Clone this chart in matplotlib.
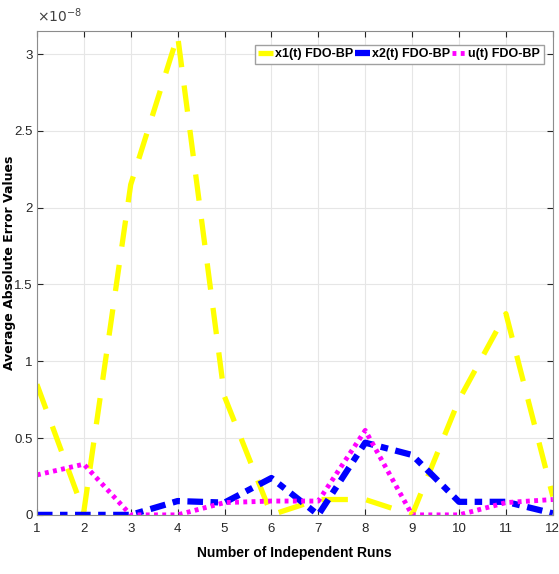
import numpy as np
import matplotlib.pyplot as plt
from matplotlib.ticker import FuncFormatter

plt.rcParams['font.family'] = ['Liberation Sans', 'DejaVu Sans']

# data (values in units of 1e-8)
runs = np.arange(1, 13)
x1_err = [0.85, 0.02, 2.15, 3.12, 0.77, 0.0, 0.1, 0.1, 0.0, 0.75, 1.31, 0.12]
x2_err = [0.0, 0.0, 0.0, 0.09, 0.08, 0.24, 0.0, 0.47, 0.39, 0.085, 0.085, 0.01]
u_err = [0.26, 0.33, 0.0, 0.0, 0.08, 0.09, 0.09, 0.55, 0.0, 0.0, 0.08, 0.1]
yticks = [0, 0.5, 1, 1.5, 2, 2.5, 3]

fig = plt.figure(figsize=(5.59, 5.74), dpi=100)
ax = fig.add_axes([0.066, 0.103, 0.923, 0.843])

ax.plot(runs, x1_err, color='yellow', lw=3.8, ls=(0, (5, 3.5)), label='x1(t) FDO-BP')
ax.plot(runs, x2_err, color='blue', lw=4.5, ls=(0, (2.5, 1.2, 1.2, 1.2)), label='x2(t) FDO-BP')
ax.plot(runs, u_err, color='magenta', lw=3.5, ls=(0, (0.8, 0.9)), label='u(t) FDO-BP')

ax.set_xlim(1, 12)
ax.set_ylim(0, 3.15)
ax.set_xticks(runs)
ax.set_yticks(yticks)
ax.yaxis.set_major_formatter(FuncFormatter(lambda v, p: '%g' % v))
ax.text(0.0, 1.012, r'$\times10^{-8}$', transform=ax.transAxes, fontsize=10,
        color='#404040', ha='left', va='bottom')

ax.grid(True, color='#e6e6e6', lw=0.8)
ax.set_axisbelow(True)
ax.tick_params(direction='in', top=True, right=True, labelsize=9.5, colors='#262626',
               length=4, pad=3)
ax.tick_params(axis='x', pad=6)
for s in ax.spines.values():
    s.set_color('#8c8c8c')

ax.set_xlabel('Number of Independent Runs', fontsize=10, fontweight='bold', labelpad=8)
ax.set_ylabel('Average Absolute Error Values', fontsize=9, fontweight='bold',
              family='DejaVu Sans', va='center')
ax.yaxis.set_label_coords(-0.054, 0.52)

leg = ax.legend(loc='upper right', ncol=3, handlelength=1.2, handletextpad=0.1,
                columnspacing=0.2, borderpad=0.3, fancybox=False, framealpha=1,
                edgecolor='#a0a0a0', bbox_to_anchor=(0.995, 0.985),
                prop={'weight': 'bold', 'size': 9})

fig.savefig('out.png', dpi=100)
